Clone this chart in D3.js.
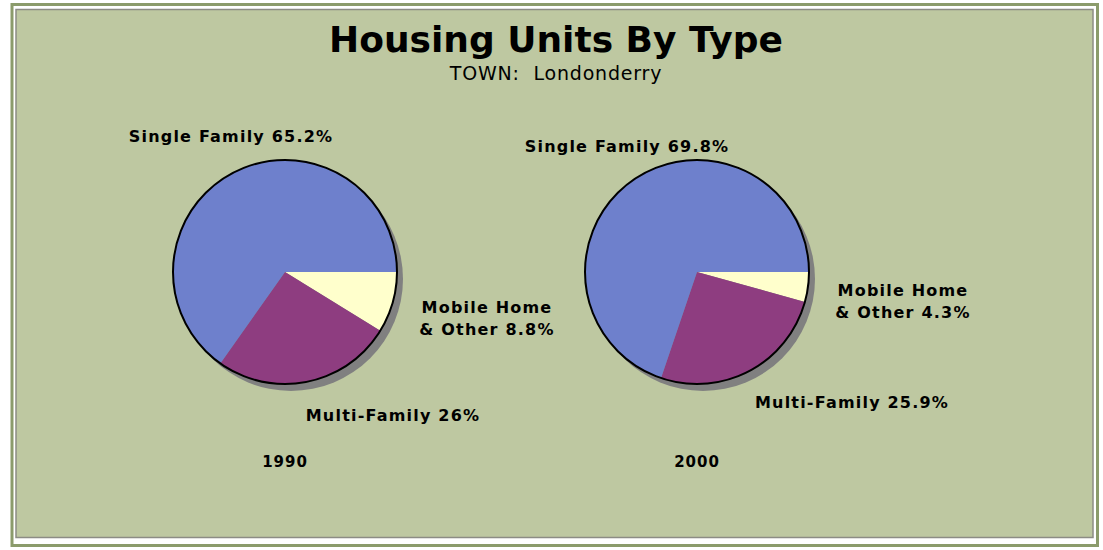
<!DOCTYPE html>
<html>
<head>
<meta charset="utf-8">
<script src="https://cdn.jsdelivr.net/npm/d3@7"></script>
<style>
  html, body { margin: 0; padding: 0; background: #fff; }
  svg { display: block; }
  text { font-family: 'DejaVu Sans', Verdana, sans-serif; fill: #000; white-space: pre; }
</style>
</head>
<body>
<div id="chart"></div>
<script>
// data
const categories = ['Mobile Home & Other', 'Multi-Family', 'Single Family'];
const years = ['1990', '2000'];
const shares1990 = [8.8, 26, 65.2];
const shares2000 = [4.3, 25.9, 69.8];
const labelLines1990 = [['Mobile Home', '& Other 8.8%'], ['Multi-Family 26%'], ['Single Family 65.2%']];
const labelLines2000 = [['Mobile Home', '& Other 4.3%'], ['Multi-Family 25.9%'], ['Single Family 69.8%']];

const W = 1103, H = 550,
    radius = 112,
    colors = d3.scaleOrdinal().domain(categories).range(['#ffffcc', '#8e3d80', '#6e80cc']),
    // label offsets from the pie centre (x centre, first baseline)
    labelOffsets = [
        [[202, 41], [108, 149], [-54, -130]],
        [[206, 24], [155, 136], [-70, -120]]
    ],
    centers = d3.scalePoint().domain(years).range([285, 697]);

const svg = d3.select('#chart').append('svg')
    .attr('width', W)
    .attr('height', H);

// frame
svg.append('rect')
    .attr('x', 12).attr('y', 4.5)
    .attr('width', 1085.5).attr('height', 541)
    .attr('fill', '#fff')
    .attr('stroke', '#8b9b6b')
    .attr('stroke-width', 3);
svg.append('rect')
    .attr('x', 16).attr('y', 9.5)
    .attr('width', 1077).attr('height', 528)
    .attr('fill', '#bec8a1')
    .attr('stroke', '#8c8c84')
    .attr('stroke-width', 1.5);

svg.append('text')
    .attr('x', 556).attr('y', 52)
    .attr('text-anchor', 'middle')
    .style('font-size', '36px')
    .style('font-weight', 'bold')
    .text('Housing Units By Type');
svg.append('text')
    .attr('x', 556).attr('y', 80)
    .attr('text-anchor', 'middle')
    .style('font-size', '19px')
    .style('letter-spacing', '0.8px')
    .text('TOWN:  Londonderry');

const pie = d3.pie()
    .sort(null)
    .value(d => d)
    .startAngle(Math.PI / 2)
    .endAngle(Math.PI / 2 + 2 * Math.PI);
const arc = d3.arc().innerRadius(0).outerRadius(radius);

[shares1990, shares2000].forEach((shares, i) => {
    const cx = centers(years[i]), cy = 272,
        g = svg.append('g').attr('transform', `translate(${cx},${cy})`);

    g.append('circle')
        .attr('cx', 6).attr('cy', 7)
        .attr('r', radius)
        .attr('fill', '#808080');

    g.selectAll('path')
        .data(pie(shares))
        .enter().append('path')
        .attr('d', arc)
        .attr('fill', (d, j) => colors(categories[j]));

    g.append('circle')
        .attr('r', radius)
        .attr('fill', 'none')
        .attr('stroke', '#000')
        .attr('stroke-width', 2);

    const lines = i === 0 ? labelLines1990 : labelLines2000;
    lines.forEach((ls, j) => {
        const t = g.append('text')
            .attr('text-anchor', 'middle')
            .style('font-size', '16px')
            .style('letter-spacing', '1.2px')
            .style('font-weight', 'bold');
        ls.forEach((s, k) => {
            t.append('tspan')
                .attr('x', labelOffsets[i][j][0])
                .attr('y', labelOffsets[i][j][1] + k * 22)
                .text(s);
        });
    });

    g.append('text')
        .attr('y', 195)
        .attr('text-anchor', 'middle')
        .style('font-size', '15px')
        .style('letter-spacing', '1px')
        .style('font-weight', 'bold')
        .text(years[i]);
});
</script>
</body>
</html>
